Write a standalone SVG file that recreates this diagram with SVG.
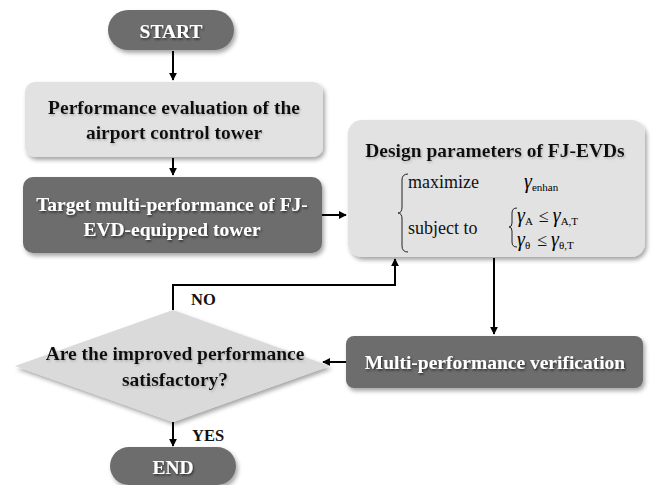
<svg xmlns="http://www.w3.org/2000/svg" width="652" height="485" viewBox="0 0 652 485">
<style>
.dark{fill:#6d6d6d}
.light{fill:#e2e2e2}
.t{font-family:"Liberation Serif","Times New Roman",serif;font-weight:bold;font-size:19.5px;text-anchor:middle}
.tw{fill:#ffffff}
.tb{fill:#111111}
.mt{font-family:"Liberation Serif","Times New Roman",serif;font-size:18px;fill:#111}
.g{font-family:"Liberation Serif","Times New Roman",serif;font-style:italic;font-size:20px}
.s{font-family:"Liberation Serif","Times New Roman",serif;font-size:11px}
.c{fill:none;stroke:#000;stroke-width:2}
.lbl{font-family:"Liberation Serif","Times New Roman",serif;font-weight:bold;font-size:16.5px;fill:#111}
</style>
<defs>
<filter id="sh" x="-10%" y="-20%" width="120%" height="150%">
<feDropShadow dx="2" dy="3" stdDeviation="2" flood-color="#000" flood-opacity="0.35"/>
</filter>
<filter id="ts" x="-5%" y="-20%" width="110%" height="150%">
<feDropShadow dx="1" dy="1.5" stdDeviation="1" flood-color="#000" flood-opacity="0.6"/>
</filter>
<filter id="tl" x="-5%" y="-20%" width="110%" height="150%">
<feDropShadow dx="1" dy="1.5" stdDeviation="1" flood-color="#888" flood-opacity="0.5"/>
</filter>
<marker id="ah" viewBox="0 0 10 10" refX="9" refY="5" markerWidth="4" markerHeight="4" orient="auto-start-reverse">
<path d="M0,0 L10,5 L0,10 z" fill="#000"/>
</marker>
</defs>

<g id="connectors">
<line class="c" x1="173" y1="51" x2="173" y2="80" marker-end="url(#ah)"/>
<line class="c" x1="173" y1="158" x2="173" y2="175" marker-end="url(#ah)"/>
<line class="c" x1="322" y1="215" x2="346" y2="215" marker-end="url(#ah)"/>
<line class="c" x1="494" y1="258" x2="494" y2="334" marker-end="url(#ah)"/>
<line class="c" x1="346" y1="362" x2="323" y2="362" marker-end="url(#ah)"/>
<polyline class="c" points="173,310 173,285 395,285 395,259" marker-end="url(#ah)"/>
<line class="c" x1="173" y1="422" x2="173" y2="446" marker-end="url(#ah)"/>
<text class="lbl" x="191" y="305">NO</text>
<text class="lbl" x="192" y="441">YES</text>
</g>

<g id="start">
<rect class="dark" x="108" y="10" width="126" height="40" rx="20" filter="url(#sh)"/>
<text class="t tw" x="171" y="38" font-size="22" filter="url(#ts)">START</text>
</g>

<g id="eval">
<rect class="light" x="25" y="82" width="298" height="75" rx="10" filter="url(#sh)"/>
<text class="t tb" x="174" y="114" filter="url(#tl)">Performance evaluation of the</text>
<text class="t tb" x="174" y="139" filter="url(#tl)">airport control tower</text>
</g>

<g id="target">
<rect class="dark" x="23" y="177" width="299" height="76" rx="10" filter="url(#sh)"/>
<text class="t tw" x="172" y="211" filter="url(#ts)">Target multi-performance of FJ-</text>
<text class="t tw" x="172" y="236" filter="url(#ts)">EVD-equipped tower</text>
</g>

<g id="design">
<rect class="light" x="348" y="120" width="297" height="137" rx="14" filter="url(#sh)"/>
<text class="t tb" x="495" y="157" filter="url(#tl)">Design parameters of FJ-EVDs</text>
<path d="M408,174 Q402,174 402,180 L402,207 Q402,213 398,213 Q402,213 402,219 L402,246 Q402,252 408,252" fill="none" stroke="#222" stroke-width="1"/>
<text class="mt" x="408" y="188">maximize</text>
<text class="mt" x="408" y="234">subject to</text>
<text x="524" y="188"><tspan class="g">γ</tspan><tspan class="s" dy="3">enhan</tspan></text>
<path d="M517,208 Q512,208 512,213 L512,223 Q512,227 509,227 Q512,227 512,231 L512,242 Q512,247 517,247" fill="none" stroke="#222" stroke-width="1"/>
<text x="517" y="222"><tspan class="g">γ</tspan><tspan class="s" dy="3">A</tspan><tspan class="mt" dy="-3" dx="6">≤</tspan><tspan class="g" dx="4">γ</tspan><tspan class="s" dy="3">A,T</tspan></text>
<text x="517" y="246"><tspan class="g">γ</tspan><tspan class="s" dy="3">θ</tspan><tspan class="mt" dy="-3" dx="7">≤</tspan><tspan class="g" dx="4">γ</tspan><tspan class="s" dy="3">θ,T</tspan></text>
</g>

<g id="verify">
<rect class="dark" x="346" y="336" width="297" height="52" rx="8" filter="url(#sh)"/>
<text class="t tw" x="495" y="369" filter="url(#ts)">Multi-performance verification</text>
</g>

<g id="decision">
<polygon points="173,310 330,366 173,422 15,366" fill="#dadada" filter="url(#sh)"/>
<text class="t tb" x="175" y="360" font-size="16.5" filter="url(#tl)">Are the improved performance</text>
<text class="t tb" x="175" y="386" font-size="16.5" filter="url(#tl)">satisfactory?</text>
</g>

<g id="end">
<rect class="dark" x="110" y="447" width="126" height="38" rx="19" filter="url(#sh)"/>
<text class="t tw" x="173" y="474" font-size="20" filter="url(#ts)">END</text>
</g>
</svg>
